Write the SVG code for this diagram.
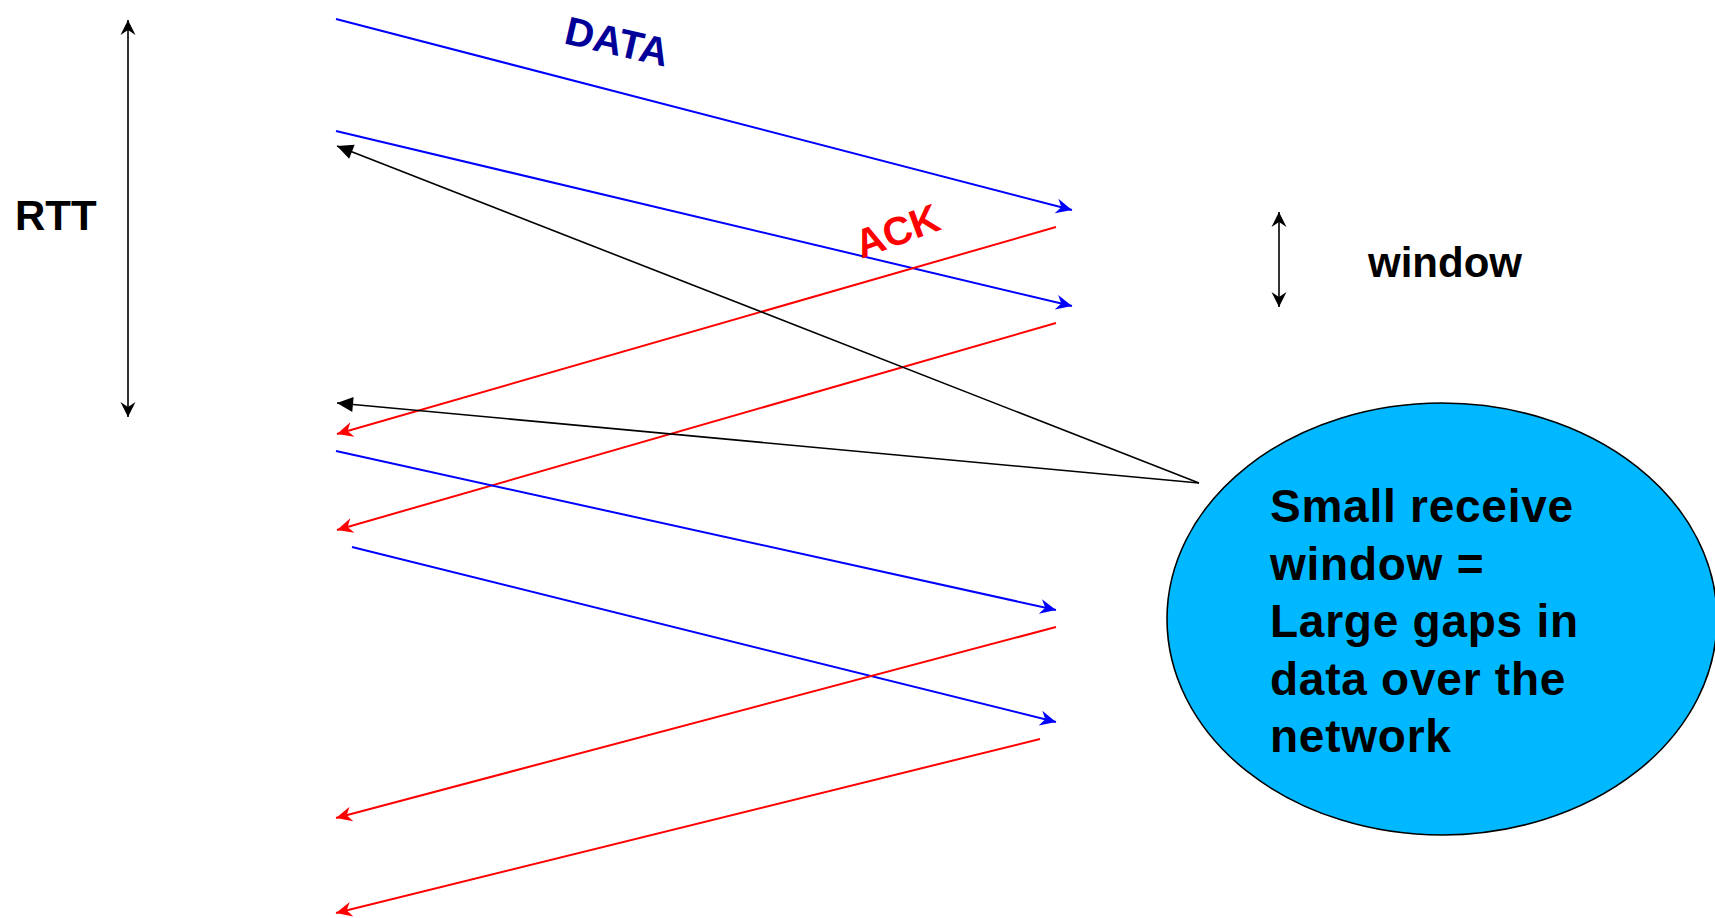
<svg xmlns="http://www.w3.org/2000/svg" width="1715" height="918" viewBox="0 0 1715 918">
<style>
  text { font-family: "Liberation Sans", Arial, sans-serif; font-weight: bold; }
  .blue { stroke: #0000FF; stroke-width: 2; fill: none; }
  .red { stroke: #FF0000; stroke-width: 2; fill: none; }
  .blk { stroke: #000000; stroke-width: 1.6; fill: none; }
</style>
<defs>
  <marker id="ab" markerUnits="userSpaceOnUse" markerWidth="20" markerHeight="20" viewBox="-18 -9 20 18" refX="0" refY="0" orient="auto">
    <path d="M0,0 L-16,-7.5 L-11,0 L-16,7.5 Z" fill="#0000FF"/>
  </marker>
  <marker id="ar" markerUnits="userSpaceOnUse" markerWidth="20" markerHeight="20" viewBox="-18 -9 20 18" refX="0" refY="0" orient="auto">
    <path d="M0,0 L-16,-7.5 L-11,0 L-16,7.5 Z" fill="#FF0000"/>
  </marker>
  <marker id="ak" markerUnits="userSpaceOnUse" markerWidth="20" markerHeight="20" viewBox="-18 -9 20 18" refX="0" refY="0" orient="auto">
    <path d="M0,0 L-16,-7.5 L-16,7.5 Z" fill="#000000"/>
  </marker>
  <marker id="ad" markerUnits="userSpaceOnUse" markerWidth="20" markerHeight="20" viewBox="-18 -9 20 18" refX="0" refY="0" orient="auto-start-reverse">
    <path d="M0,0 L-15,-7.5 L-10,0 L-15,7.5 Z" fill="#000000"/>
  </marker>
</defs>

<g id="connectors">
  <line class="blue" x1="336" y1="19" x2="1072" y2="210" marker-end="url(#ab)"/>
  <line class="blue" x1="336" y1="131" x2="1072" y2="306" marker-end="url(#ab)"/>
  <line class="red" x1="1056" y1="227" x2="337" y2="434" marker-end="url(#ar)"/>
  <line class="red" x1="1056" y1="323" x2="337" y2="530" marker-end="url(#ar)"/>
  <line class="blue" x1="336" y1="451" x2="1056" y2="610" marker-end="url(#ab)"/>
  <line class="blue" x1="352" y1="547" x2="1056" y2="722" marker-end="url(#ab)"/>
  <line class="red" x1="1056" y1="627" x2="336" y2="818" marker-end="url(#ar)"/>
  <line class="red" x1="1040" y1="739" x2="336" y2="913" marker-end="url(#ar)"/>
  <line class="blk" x1="1199" y1="483" x2="337" y2="146" marker-end="url(#ak)"/>
  <line class="blk" x1="1199" y1="483" x2="337" y2="403" marker-end="url(#ak)"/>
  <line class="blk" x1="128" y1="20" x2="128" y2="417" marker-start="url(#ad)" marker-end="url(#ad)"/>
  <line class="blk" x1="1279" y1="212" x2="1279" y2="307" marker-start="url(#ad)" marker-end="url(#ad)"/>
</g>

<g id="labels">
  <text x="15" y="230" font-size="42" fill="#000000">RTT</text>
  <text x="1368" y="277" font-size="42" fill="#000000">window</text>
  <text transform="translate(614,55) rotate(13)" text-anchor="middle" font-size="40" fill="#000099">DATA</text>
  <text transform="translate(902,244) rotate(-20)" text-anchor="middle" font-size="40" fill="#FF0000">ACK</text>
</g>

<g id="callout">
  <ellipse cx="1442" cy="619" rx="275" ry="216" fill="#00B8FF" stroke="#000000" stroke-width="1.6"/>
  <text font-size="46" letter-spacing="0.75" fill="#000000">
    <tspan x="1270" y="522">Small receive</tspan>
    <tspan x="1270" y="580">window =</tspan>
    <tspan x="1270" y="637">Large gaps in</tspan>
    <tspan x="1270" y="695">data over the</tspan>
    <tspan x="1270" y="752">network</tspan>
  </text>
</g>
</svg>
